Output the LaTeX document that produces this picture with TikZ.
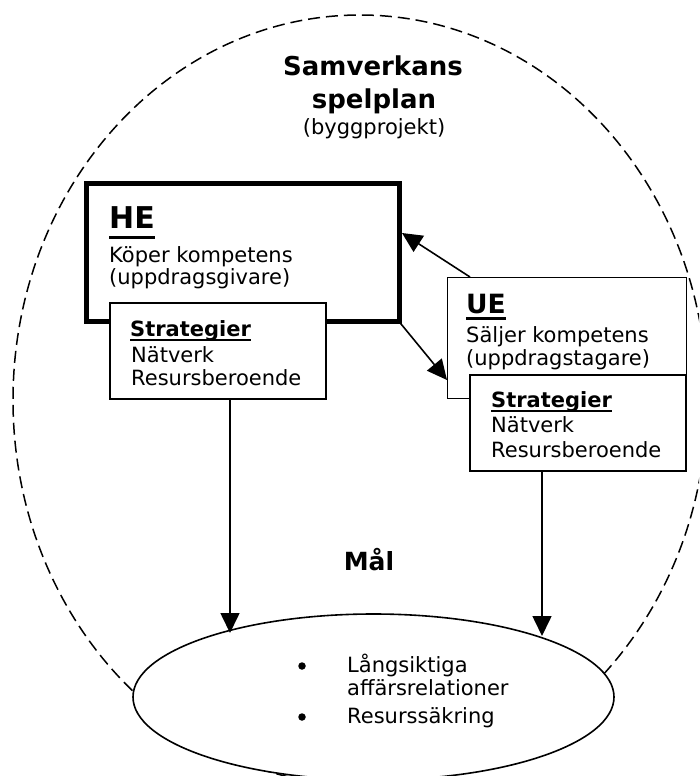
\documentclass[tikz,border=0pt]{standalone}
\usepackage{fontspec}
\setmainfont{DejaVu Sans}
\usetikzlibrary{arrows.meta,shapes.geometric}
\newcommand\myul[3]{\setbox0=\hbox{#3}\rlap{\rule[-#1]{\wd0}{#2}}\box0}
\begin{document}
\begin{tikzpicture}[x=1pt,y=-1pt,
  box/.style={draw, fill=white, inner sep=0pt, outer sep=0pt, anchor=north west, line width=1.6pt},
  txt/.style={anchor=base west, inner sep=0pt, font=\fontsize{21}{24}\selectfont},
  ctxt/.style={anchor=base, inner sep=0pt},
  arr/.style={line width=1.6pt, -{Triangle[length=20pt,width=19pt]}},
  bul/.style={circle, fill, inner sep=0pt, minimum size=7.5pt}]
\useasboundingbox (0,0) rectangle (699,776);
\clip (0,0) rectangle (699,776);
% outer dashed arena
\draw[line width=1.5pt, dash pattern=on 12pt off 6pt] (360,400) ellipse [x radius=347, y radius=385];
% title
\node[ctxt, font=\bfseries\fontsize{26}{30}\selectfont] (t1) at (373,75) {Samverkans};
\node[ctxt, font=\bfseries\fontsize{26}{30}\selectfont] (t2) at (374,108) {spelplan};
\node[ctxt, font=\fontsize{21}{24}\selectfont] (t3) at (374,134) {(byggprojekt)};
% HE box
\node[box, line width=5pt, minimum width=313pt, minimum height=138.5pt] (he) at (86,183) {};
\node[txt, font=\bfseries\fontsize{30}{34}\selectfont] (het) at (109,228) {\myul{10.5pt}{3pt}{HE}};
\node[txt] (he1) at (109,262) {Köper kompetens};
\node[txt] (he2) at (109,284) {(uppdragsgivare)};
% UE box
\node[box, line width=1pt, minimum width=239pt, minimum height=121pt] (ue) at (447,277) {};
\node[txt, font=\bfseries\fontsize{26.5}{30}\selectfont] (uet) at (466,313) {\myul{6.5pt}{2.5pt}{UE}};
\node[txt] (ue1) at (466,342) {Säljer kompetens};
\node[txt] (ue2) at (466,365) {(uppdragstagare)};
% strategy boxes
\node[box, minimum width=216pt, minimum height=96pt] (hes) at (110,303) {};
\node[txt, font=\bfseries\fontsize{21}{24}\selectfont] (hes0) at (130,336) {\myul{5pt}{2pt}{Strategier}};
\node[txt] (hes1) at (131,362) {Nätverk};
\node[txt] (hes2) at (131,385) {Resursberoende};
\node[box, minimum width=216pt, minimum height=96pt] (ues) at (470,375) {};
\node[txt, font=\bfseries\fontsize{21}{24}\selectfont] (ues0) at (491,407) {\myul{5pt}{2pt}{Strategier}};
\node[txt] (ues1) at (491,432) {Nätverk};
\node[txt] (ues2) at (491,457) {Resursberoende};
% goal
\node[ctxt, font=\bfseries\fontsize{25}{28}\selectfont] (mal) at (369,570) {Mål};
\node[ellipse, draw, fill=white, line width=1.6pt, inner sep=0pt, minimum width=481pt, minimum height=166pt] (goal) at (373.5,697) {};
\node[bul] (b1) at (302,666) {};
\node[bul] (b2) at (302,717) {};
\node[txt] (g1) at (347,672) {Långsiktiga};
\node[txt] (g2) at (347,695) {affärsrelationer};
\node[txt] (g3) at (347,723) {Resurssäkring};
% connectors
\coordinate (heIn) at (402,233);
\coordinate (ueIn) at (447,380);
\coordinate (gL) at (230,633);
\coordinate (gR) at (542,636);
\draw[arr] (ue.north -| ues.west) -- (heIn);
\draw[arr] (he.south east) -- (ueIn);
\draw[arr] (hes.south -| gL) -- (gL);
\draw[arr] (ues.south -| gR) -- (gR);
\end{tikzpicture}
\end{document}
